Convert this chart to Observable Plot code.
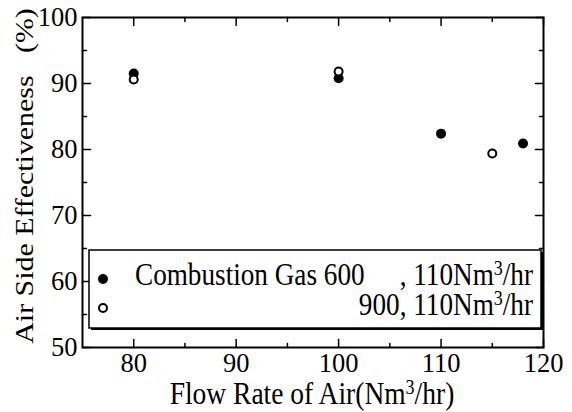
<!DOCTYPE html>
<html><head><meta charset="utf-8">
<script src="https://cdn.jsdelivr.net/npm/d3@7"></script>
<script src="https://cdn.jsdelivr.net/npm/@observablehq/plot@0.6"></script>
<style>body{margin:0;background:#fff;} .serif, .serif text{font-family:"Liberation Serif", serif !important;}</style>
</head><body><div id="chart"></div>
<script>
// Data
const filledX = [80, 100, 110, 118];
const filledY = [91.5, 90.8, 82.4, 80.9];
const openX = [80, 100, 115];
const openY = [90.6, 91.8, 79.4];
const xMajor = [80, 90, 100, 110, 120];
const xMinor = [85, 95, 105, 115];
const yMajor = [50, 60, 70, 80, 90, 100];
const yMinor = [55, 65, 75, 85, 95];
const legendLine1a = "Combustion Gas 600";
const legendLine1b = ", 110Nm";
const legendLine2 = "900, 110Nm";
const unitTail = "/hr";
const xLabelA = "Flow Rate of Air(Nm";
const xLabelB = "/hr)";
const yLabel = "Air Side Effectiveness\u00a0\u00a0\u00a0(%)";

const filled = filledX.map((x, i) => ({x, y: filledY[i]}));
const open = openX.map((x, i) => ({x, y: openY[i]}));

const tickShape = {draw(ctx, l) { ctx.moveTo(0, 0); ctx.lineTo(0, -l); }};
const tk = (data, anchor, rotate, len, isX) => Plot.vector(data, {
  [isX ? "x" : "y"]: d => d, frameAnchor: anchor, rotate, length: len,
  anchor: "start", shape: tickShape, stroke: "black", strokeWidth: 1.5
});

const W = 572, H = 412;
const SY = 1.15; // the reference's lettering is drawn taller than wide
const chart = Plot.plot({
  width: W, height: H,
  marginLeft: 82, marginRight: 29, marginTop: 17, marginBottom: 65,
  className: "serif",
  style: {fontFamily: "'Liberation Serif', serif", fontSize: "26.5px", background: "#fff", color: "black"},
  x: {domain: [75, 120]},
  y: {domain: [50, 100]},
  marks: [
    Plot.axisX({ticks: xMajor, tickSize: 0, tickPadding: 6, label: null, tickFormat: d => d}),
    Plot.axisY({ticks: yMajor, tickSize: 0, tickPadding: 5, label: null, tickFormat: d => d}),
    tk(xMajor, "bottom", 0, 8, true),
    tk(xMinor, "bottom", 0, 4, true),
    tk(xMajor, "top", 180, 8, true),
    tk(xMinor, "top", 180, 4, true),
    tk(yMajor, "left", 90, 8, false),
    tk(yMinor, "left", 90, 4, false),
    tk(yMajor, "right", -90, 8, false),
    tk(yMinor, "right", -90, 4, false),
    Plot.frame({stroke: "black", strokeWidth: 2}),
    Plot.dot(filled, {x: "x", y: "y", r: 5, fill: "black", stroke: "none"}),
    Plot.dot(open, {x: "x", y: "y", r: 4, fill: "white", stroke: "black", strokeWidth: 2})
  ]
});

const svg = d3.select(chart);
const setFont = (s, size) => s.attr("style", `font-family:'Liberation Serif',serif;font-size:${size}px`).attr("fill", "black");
// Legend box with shadow
const lg = svg.append("g");
lg.append("rect").attr("x", 91).attr("y", 252).attr("width", 452).attr("height", 78).attr("fill", "black");
lg.append("rect").attr("x", 89).attr("y", 250).attr("width", 452).attr("height", 78)
  .attr("fill", "white").attr("stroke", "black").attr("stroke-width", 1.5);
lg.append("circle").attr("cx", 103).attr("cy", 279).attr("r", 5).attr("fill", "black");
lg.append("circle").attr("cx", 103).attr("cy", 308).attr("r", 4).attr("fill", "white").attr("stroke", "black").attr("stroke-width", 2);
const txt = (x, y, anchor, size) => setFont(svg.append("text")
  .attr("transform", `translate(${x},${y}) scale(1,${SY})`).attr("text-anchor", anchor), size);
const addUnit = (t, a) => {
  t.append("tspan").text(a);
  setFont(t.append("tspan").attr("dy", -9), 18).text("3");
  t.append("tspan").attr("dy", 9).text(unitTail);
  return t;
};
txt(135, 285, "start", 27.2).text(legendLine1a);
addUnit(txt(533, 285, "end", 27.2), legendLine1b);
addUnit(txt(533, 315, "end", 27.2), legendLine2);

// Axis titles
addUnit(txt(312, 404, "middle", 27.5), xLabelA).select("tspan:last-child").text(xLabelB);
setFont(svg.append("text").attr("transform", `translate(33,176) rotate(-90) scale(${SY},1)`).attr("text-anchor", "middle"), 26).text(yLabel);

document.getElementById("chart").appendChild(chart);
</script>
</body></html>
